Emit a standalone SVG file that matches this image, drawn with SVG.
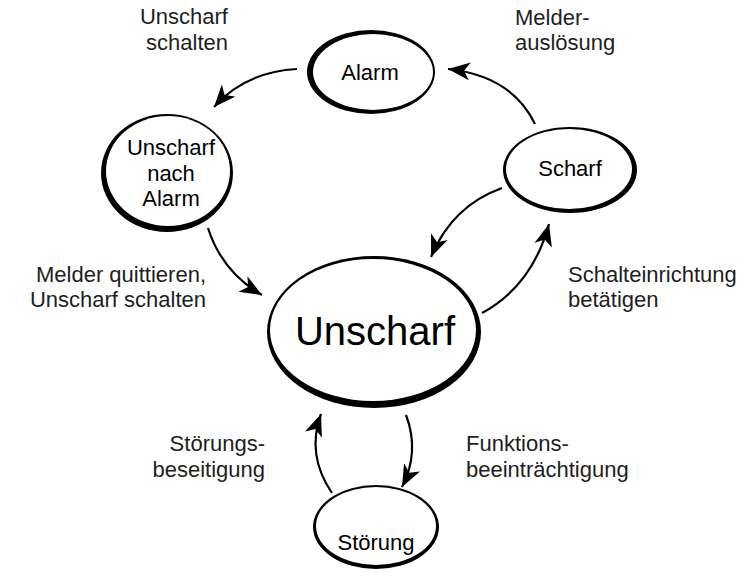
<svg xmlns="http://www.w3.org/2000/svg" width="756" height="581" viewBox="0 0 756 581">
<style>
.o{fill:#000}
.i{fill:#fff}
.nt{font-family:"Liberation Sans",Arial,sans-serif;font-size:22px;fill:#000;text-anchor:middle}
.lb{font-family:"Liberation Sans",Arial,sans-serif;font-size:22px;fill:#1e1e1e}
.c{fill:none;stroke:#000;stroke-width:2.2;marker-end:url(#ah)}
</style>
<defs>
<marker id="ah" markerUnits="userSpaceOnUse" markerWidth="26" markerHeight="22" refX="22" refY="9" orient="auto" viewBox="0 0 26 22">
<path d="M0,0 L22,9 L0,18 L6,9 Z" fill="#000"/>
</marker>
</defs>
<rect width="756" height="581" fill="#fff"/>
<g id="connectors">
<path class="c" d="M297,69 Q245,72 214,107"/>
<path class="c" d="M535,124 Q512,76 448,69"/>
<path class="c" d="M208,228 Q222,272 262,295"/>
<path class="c" d="M502,188 Q452,206 431,257"/>
<path class="c" d="M482,313 Q532,286 549,224"/>
<path class="c" d="M406,415 Q420,452 402,487"/>
<path class="c" d="M332,493 Q306,455 321,414"/>
</g>
<g id="unscharf">
<ellipse class="o" cx="374" cy="332" rx="107" ry="76"/>
<ellipse class="i" cx="373" cy="330" rx="103" ry="71"/>
<text class="nt" x="375" y="345" style="font-size:40px">Unscharf</text>
</g>
<g id="alarm">
<ellipse class="o" cx="371" cy="72" rx="64" ry="42"/>
<ellipse class="i" cx="373" cy="72" rx="60" ry="38"/>
<text class="nt" x="370" y="80">Alarm</text>
</g>
<g id="unscharf-nach-alarm">
<ellipse class="o" cx="167" cy="173" rx="66" ry="59"/>
<ellipse class="i" cx="168" cy="171" rx="62" ry="55"/>
<text class="nt" x="171" y="155">Unscharf</text>
<text class="nt" x="171" y="181">nach</text>
<text class="nt" x="171" y="206">Alarm</text>
</g>
<g id="scharf">
<ellipse class="o" cx="570" cy="170" rx="67" ry="43"/>
<ellipse class="i" cx="569" cy="169" rx="63" ry="40"/>
<text class="nt" x="570" y="176">Scharf</text>
</g>
<g id="stoerung">
<ellipse class="o" cx="376" cy="527" rx="63" ry="42"/>
<ellipse class="i" cx="376" cy="526" rx="60" ry="39"/>
<text class="nt" x="376" y="550">Störung</text>
</g>
<g id="labels">
<text class="lb" x="228" y="24" text-anchor="end">Unscharf</text>
<text class="lb" x="228" y="50" text-anchor="end">schalten</text>
<text class="lb" x="515" y="25">Melder-</text>
<text class="lb" x="515" y="50">auslösung</text>
<text class="lb" x="206" y="282" text-anchor="end">Melder quittieren,</text>
<text class="lb" x="206" y="307" text-anchor="end">Unscharf schalten</text>
<text class="lb" x="568" y="282">Schalteinrichtung</text>
<text class="lb" x="568" y="307">betätigen</text>
<text class="lb" x="265" y="451" text-anchor="end">Störungs-</text>
<text class="lb" x="265" y="477" text-anchor="end">beseitigung</text>
<text class="lb" x="466" y="451">Funktions-</text>
<text class="lb" x="466" y="477">beeinträchtigung</text>
</g>
</svg>
